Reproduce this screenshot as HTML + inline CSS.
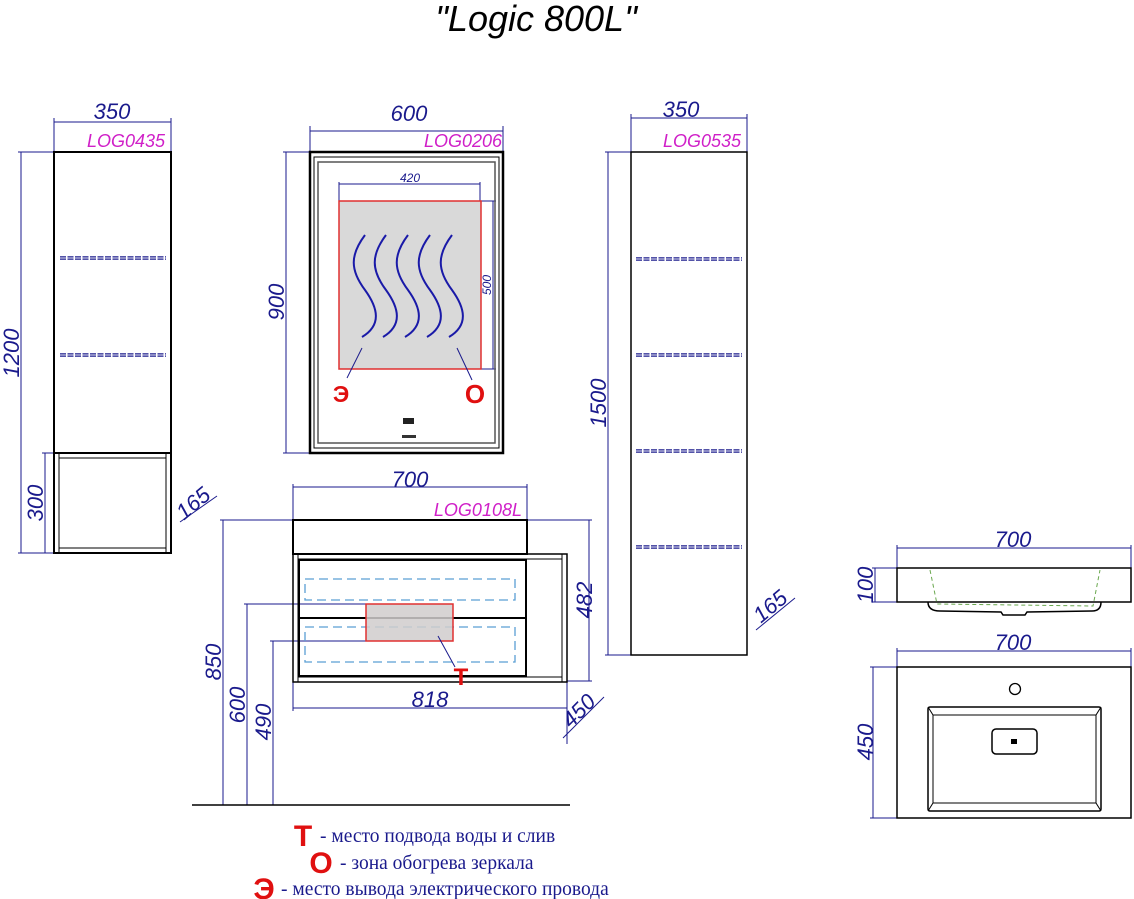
<!DOCTYPE html>
<html><head><meta charset="utf-8"><style>
html,body{margin:0;padding:0;background:#fff;}
svg{display:block;}
.d{font-family:"Liberation Sans",sans-serif;font-style:italic;fill:#1a1a8c;}
.m{font-family:"Liberation Sans",sans-serif;font-style:italic;fill:#d020c8;font-size:18px;}
.r{font-family:"Liberation Sans",sans-serif;font-weight:bold;fill:#e01010;}
.l{font-family:"Liberation Serif","DejaVu Serif",serif;fill:#1a1a8c;font-size:19.5px;}
</style></head><body>
<svg width="1134" height="899" viewBox="0 0 1134 899" xmlns="http://www.w3.org/2000/svg">
<text x="536" y="31" text-anchor="middle" font-family="Liberation Sans" font-style="italic" font-size="36" fill="#000">"Logic 800L"</text>

<g stroke="#1a1a8c" stroke-width="1" fill="none">
<line x1="54" y1="118" x2="54" y2="152"/><line x1="171" y1="118" x2="171" y2="152"/>
<line x1="54" y1="122" x2="171" y2="122"/>
<line x1="18" y1="152" x2="54" y2="152"/><line x1="21" y1="152" x2="21" y2="553"/>
<line x1="18" y1="553" x2="54" y2="553"/>
<line x1="42" y1="453" x2="54" y2="453"/><line x1="45" y1="453" x2="45" y2="553"/>
<line x1="180" y1="522" x2="217" y2="496"/>
<line x1="310" y1="126" x2="310" y2="152"/><line x1="503" y1="126" x2="503" y2="152"/>
<line x1="310" y1="131" x2="503" y2="131"/>
<line x1="283" y1="152" x2="310" y2="152"/><line x1="286" y1="152" x2="286" y2="453"/><line x1="283" y1="453" x2="310" y2="453"/>
<line x1="339" y1="182" x2="339" y2="201"/><line x1="480" y1="182" x2="480" y2="201"/>
<line x1="339" y1="184" x2="480" y2="184"/>
<line x1="481" y1="201" x2="496" y2="201"/><line x1="481" y1="369" x2="496" y2="369"/>
<line x1="493" y1="201" x2="493" y2="369"/>
<line x1="293" y1="484" x2="293" y2="520"/><line x1="527" y1="484" x2="527" y2="520"/>
<line x1="293" y1="487" x2="527" y2="487"/>
<line x1="527" y1="520" x2="592" y2="520"/><line x1="567" y1="681" x2="592" y2="681"/>
<line x1="589" y1="520" x2="589" y2="681"/>
<line x1="293" y1="682" x2="293" y2="711"/><line x1="567" y1="682" x2="567" y2="744"/>
<line x1="293" y1="708" x2="567" y2="708"/>
<line x1="563" y1="738" x2="604" y2="697"/>
<line x1="220" y1="520" x2="293" y2="520"/><line x1="223" y1="520" x2="223" y2="805"/>
<line x1="244" y1="604" x2="366" y2="604"/><line x1="247" y1="604" x2="247" y2="805"/>
<line x1="270" y1="641" x2="366" y2="641"/><line x1="273" y1="641" x2="273" y2="805"/>
<line x1="631" y1="114" x2="631" y2="152"/><line x1="747" y1="114" x2="747" y2="152"/>
<line x1="631" y1="118" x2="747" y2="118"/>
<line x1="605" y1="152" x2="631" y2="152"/><line x1="608" y1="152" x2="608" y2="655"/><line x1="605" y1="655" x2="631" y2="655"/>
<line x1="756" y1="630" x2="795" y2="598"/>
<line x1="897" y1="545" x2="897" y2="568"/><line x1="1131" y1="545" x2="1131" y2="568"/>
<line x1="897" y1="548" x2="1131" y2="548"/>
<line x1="872" y1="568" x2="897" y2="568"/><line x1="872" y1="602" x2="897" y2="602"/><line x1="875" y1="568" x2="875" y2="602"/>
<line x1="897" y1="648" x2="897" y2="667"/><line x1="1131" y1="648" x2="1131" y2="667"/>
<line x1="897" y1="651" x2="1131" y2="651"/>
<line x1="870" y1="667" x2="897" y2="667"/><line x1="870" y1="818" x2="897" y2="818"/><line x1="873" y1="667" x2="873" y2="818"/>
</g>

<g class="d" font-size="22">
<text x="112" y="119" text-anchor="middle">350</text>
<text x="409" y="121" text-anchor="middle">600</text>
<text x="681" y="117" text-anchor="middle">350</text>
<text x="410" y="487" text-anchor="middle">700</text>
<text x="430" y="707" text-anchor="middle">818</text>
<text x="1013" y="547" text-anchor="middle">700</text>
<text x="1013" y="650" text-anchor="middle">700</text>
<text transform="translate(19,353) rotate(-90)" text-anchor="middle">1200</text>
<text transform="translate(43,503) rotate(-90)" text-anchor="middle">300</text>
<text transform="translate(284,302) rotate(-90)" text-anchor="middle">900</text>
<text transform="translate(606,403) rotate(-90)" text-anchor="middle">1500</text>
<text transform="translate(221,662) rotate(-90)" text-anchor="middle">850</text>
<text transform="translate(245,705) rotate(-90)" text-anchor="middle">600</text>
<text transform="translate(271,722) rotate(-90)" text-anchor="middle">490</text>
<text transform="translate(592,600) rotate(-90)" text-anchor="middle">482</text>
<text transform="translate(873,585) rotate(-90)" text-anchor="middle">100</text>
<text transform="translate(873,742) rotate(-90)" text-anchor="middle">450</text>
<text transform="translate(198,509) rotate(-40)" text-anchor="middle">165</text>
<text transform="translate(775,612) rotate(-40)" text-anchor="middle">165</text>
<text transform="translate(584,716) rotate(-45)" text-anchor="middle">450</text>
</g>
<text class="d" font-size="12" x="410" y="182" text-anchor="middle">420</text>
<text class="d" font-size="12" transform="translate(491,285) rotate(-90)" text-anchor="middle">500</text>

<g class="m">
<text x="165" y="147" text-anchor="end">LOG0435</text>
<text x="502" y="147" text-anchor="end">LOG0206</text>
<text x="741" y="147" text-anchor="end">LOG0535</text>
<text x="522" y="516" text-anchor="end">LOG0108L</text>
</g>

<g stroke="#000" fill="none">
<rect x="54" y="152" width="117" height="401" stroke-width="2"/>
<line x1="54" y1="453" x2="171" y2="453" stroke-width="2"/>
<line x1="59" y1="453" x2="59" y2="553"/><line x1="166" y1="453" x2="166" y2="553"/>
<line x1="59" y1="458" x2="166" y2="458"/><line x1="59" y1="548" x2="166" y2="548"/>
<rect x="310" y="152" width="193" height="301" stroke-width="2.5"/>
<rect x="314" y="157" width="185" height="291"/>
<rect x="318" y="162" width="177" height="281" stroke="#555" stroke-width="1.5"/>
<rect x="293" y="520" width="234" height="34" stroke-width="2"/>
<rect x="293" y="554" width="274" height="128" stroke-width="1.5"/>
<line x1="298" y1="554" x2="298" y2="682"/><line x1="562" y1="554" x2="562" y2="682"/>
<line x1="298" y1="559" x2="562" y2="559"/><line x1="298" y1="677" x2="562" y2="677"/>
<rect x="299" y="560" width="227" height="116" stroke-width="2"/>
<line x1="299" y1="618" x2="526" y2="618" stroke-width="2"/>
<line x1="192" y1="805" x2="570" y2="805" stroke-width="1.5"/>
<rect x="631" y="152" width="116" height="503" stroke-width="1.5"/>
<rect x="897" y="568" width="234" height="34" stroke-width="1.5"/>
<path d="M928 602 Q928 611 940 611 L1001 612 L1003 615 L1025 615 L1027 612 L1092 611 Q1101 611 1101 602" stroke-width="1.5"/>
<rect x="897" y="667" width="234" height="151" stroke-width="1.5"/>
<circle cx="1015" cy="689" r="5.5" stroke-width="1.3"/>
<rect x="928" y="707" width="173" height="104" rx="2" stroke-width="1.5"/>
<rect x="933" y="715" width="163" height="88" stroke-width="1"/>
<line x1="928" y1="707" x2="933" y2="715"/><line x1="1101" y1="707" x2="1096" y2="715"/>
<line x1="928" y1="811" x2="933" y2="803"/><line x1="1101" y1="811" x2="1096" y2="803"/>
<rect x="992" y="729" width="45" height="25" rx="4" stroke-width="1.5"/>
</g>
<rect x="1011" y="739" width="6" height="5" fill="#000"/>
<path d="M930 570 L937 604 L1093 606 L1100 570" stroke="#6aa84f" stroke-width="1" stroke-dasharray="4,3" fill="none"/>

<g stroke="#1a1a8c" stroke-width="3.5" stroke-dasharray="6,1.5" fill="none">
<line x1="60" y1="258" x2="166" y2="258"/><line x1="60" y1="355" x2="166" y2="355"/>
<line x1="636" y1="259" x2="742" y2="259"/><line x1="636" y1="355" x2="742" y2="355"/>
<line x1="636" y1="451" x2="742" y2="451"/><line x1="636" y1="547" x2="742" y2="547"/>
</g>
<g stroke="#fff" stroke-width="1" fill="none">
<line x1="60" y1="258" x2="166" y2="258"/><line x1="60" y1="355" x2="166" y2="355"/>
<line x1="636" y1="259" x2="742" y2="259"/><line x1="636" y1="355" x2="742" y2="355"/>
<line x1="636" y1="451" x2="742" y2="451"/><line x1="636" y1="547" x2="742" y2="547"/>
</g>
<g stroke="#5a9fd4" stroke-width="1.3" stroke-dasharray="9,5" fill="none">
<rect x="305" y="579" width="210" height="21"/>
<rect x="305" y="627" width="210" height="35"/>
</g>
<rect x="339" y="201" width="142" height="168" fill="#d9d9d9" stroke="#e03030" stroke-width="1.5"/>
<rect x="366" y="604" width="87" height="37" fill="#d0cccc" fill-opacity="0.85" stroke="#e03030" stroke-width="1.5"/>
<g stroke="#1a1aa8" stroke-width="2" fill="none">
<path d="M365 235 C350 255 350 270 365 290 C378 308 382 325 362 337"/>
<path d="M386 235 C371 255 371 270 386 290 C399 308 403 325 383 337"/>
<path d="M408 235 C393 255 393 270 408 290 C421 308 425 325 405 337"/>
<path d="M430 235 C415 255 415 270 430 290 C443 308 447 325 427 337"/>
<path d="M452 235 C437 255 437 270 452 290 C465 308 469 325 449 337"/>
</g>
<g stroke="#1a1a8c" stroke-width="1">
<line x1="362" y1="348" x2="347" y2="378"/>
<line x1="457" y1="348" x2="472" y2="380"/>
<line x1="438" y1="636" x2="455" y2="667"/>
</g>
<text class="r" x="341" y="402" font-size="23" text-anchor="middle">Э</text>
<text class="r" x="475" y="403" font-size="26" text-anchor="middle">О</text>
<text class="r" x="461" y="685" font-size="24" text-anchor="middle">Т</text>
<rect x="403" y="418" width="11" height="6" fill="#222"/>
<rect x="402" y="435" width="14" height="3" fill="#333"/>

<text class="r" x="303" y="846" font-size="30" text-anchor="middle">Т</text>
<text class="l" x="320" y="842">- место подвода воды и слив</text>
<text class="r" x="321" y="873" font-size="30" text-anchor="middle">О</text>
<text class="l" x="340" y="869">-  зона обогрева зеркала</text>
<text class="r" x="264" y="899" font-size="30" text-anchor="middle">Э</text>
<text class="l" x="281" y="895">-  место вывода электрического провода</text>
</svg>
</body></html>
